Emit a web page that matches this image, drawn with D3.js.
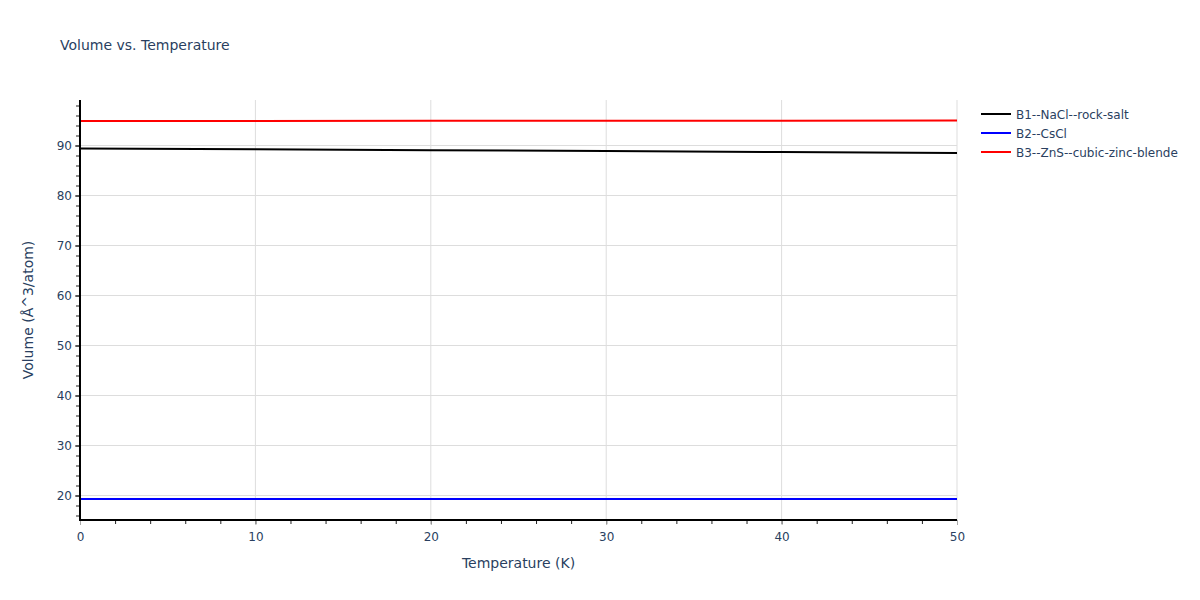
<!DOCTYPE html>
<html>
<head>
<meta charset="utf-8">
<script src="https://cdn.jsdelivr.net/npm/d3@7.9.0/dist/d3.min.js"></script>
<style>
  body { margin: 0; background: #fff; }
  svg { font-family: "DejaVu Sans", sans-serif; }
</style>
</head>
<body>
<svg id="chart" width="1200" height="600"></svg>
<script>
// data
const temps = [0, 10, 20, 30, 40, 50];
const nacl = [89.40, 89.24, 89.06, 88.88, 88.70, 88.52];
const cscl = [19.30, 19.30, 19.30, 19.30, 19.30, 19.30];
const zns = [94.88, 94.90, 94.93, 94.95, 94.97, 95.00];
const seriesNames = ['B1--NaCl--rock-salt', 'B2--CsCl', 'B3--ZnS--cubic-zinc-blende'];
const seriesColors = ['black', 'blue', 'red'];
const xTicks = [0, 10, 20, 30, 40, 50];
const yTicks = [20, 30, 40, 50, 60, 70, 80, 90];

const svg = d3.select('#chart');
const margin = { left: 80, right: 243, top: 100, bottom: 80 };
const W = 1200, H = 600;
const textColor = '#2a3f5f';
const font = '"DejaVu Sans", sans-serif';

const x = d3.scaleLinear().domain([0, 50]).range([margin.left, W - margin.right]);
const y = d3.scaleLinear().domain([15.1, 99.1]).range([H - margin.bottom, margin.top]);

// gridlines
svg.append('g').selectAll('line')
  .data(xTicks.filter(d => d > 0))
  .enter().append('line')
  .attr('x1', d => x(d)).attr('x2', d => x(d))
  .attr('y1', margin.top).attr('y2', H - margin.bottom)
  .attr('stroke', '#dddddd').attr('stroke-width', 1);

svg.append('g').selectAll('line')
  .data(yTicks)
  .enter().append('line')
  .attr('x1', margin.left).attr('x2', W - margin.right)
  .attr('y1', d => y(d)).attr('y2', d => y(d))
  .attr('stroke', '#dddddd').attr('stroke-width', 1);

// lines
const allSeries = [nacl, cscl, zns];
const line = d3.line().x((d, i) => x(temps[i])).y(d => y(d));
allSeries.forEach((s, k) => {
  svg.append('path')
    .datum(s)
    .attr('d', line)
    .attr('fill', 'none')
    .attr('stroke', seriesColors[k])
    .attr('stroke-width', 2);
});

// x axis
const xAxis = svg.append('g').attr('transform', `translate(0,${H - margin.bottom})`);
xAxis.call(d3.axisBottom(x).tickValues(d3.range(0, 51, 2)).tickSize(4).tickFormat(''))
  .call(g => g.select('.domain').remove())
  .call(g => g.selectAll('line').attr('stroke', '#222'));
xAxis.append('g').call(d3.axisBottom(x).tickValues(xTicks).tickSize(5).tickPadding(7))
  .call(g => g.select('.domain').remove())
  .call(g => g.selectAll('line').attr('stroke', '#aaa'))
  .call(g => g.selectAll('text').attr('fill', textColor).attr('font-size', 12)
    .attr('font-family', font));
xAxis.append('line').attr('x1', margin.left - 1).attr('x2', W - margin.right)
  .attr('stroke', 'black').attr('stroke-width', 2);

// y axis
const yAxis = svg.append('g').attr('transform', `translate(${margin.left},0)`);
yAxis.call(d3.axisLeft(y).tickValues(d3.range(16, 99, 2)).tickSize(4).tickFormat(''))
  .call(g => g.select('.domain').remove())
  .call(g => g.selectAll('line').attr('stroke', '#222'));
yAxis.append('g').call(d3.axisLeft(y).tickValues(yTicks).tickSize(5).tickPadding(3))
  .call(g => g.select('.domain').remove())
  .call(g => g.selectAll('line').attr('stroke', '#222'))
  .call(g => g.selectAll('text').attr('fill', textColor).attr('font-size', 12)
    .attr('font-family', font));
yAxis.append('line').attr('y1', margin.top).attr('y2', H - margin.bottom + 1)
  .attr('stroke', 'black').attr('stroke-width', 2);

// titles
svg.append('text').attr('x', 60).attr('y', 50)
  .attr('fill', textColor).attr('font-size', 14)
  .text('Volume vs. Temperature');

svg.append('text')
  .attr('x', (margin.left + W - margin.right) / 2).attr('y', 568)
  .attr('text-anchor', 'middle').attr('fill', textColor).attr('font-size', 14)
  .text('Temperature (K)');

svg.append('text')
  .attr('transform', `translate(33,${(margin.top + H - margin.bottom) / 2}) rotate(-90)`)
  .attr('text-anchor', 'middle').attr('fill', textColor).attr('font-size', 14)
  .text('Volume (Å^3/atom)');

// legend
const legend = svg.append('g').attr('transform', 'translate(981,114)');
seriesNames.forEach((name, i) => {
  const row = legend.append('g').attr('transform', `translate(0,${i * 19})`);
  row.append('line').attr('x1', 0).attr('x2', 30)
    .attr('stroke', seriesColors[i]).attr('stroke-width', 2);
  row.append('text').attr('x', 35).attr('y', 4.5)
    .attr('fill', textColor).attr('font-size', 12).text(name);
});
</script>
</body>
</html>
